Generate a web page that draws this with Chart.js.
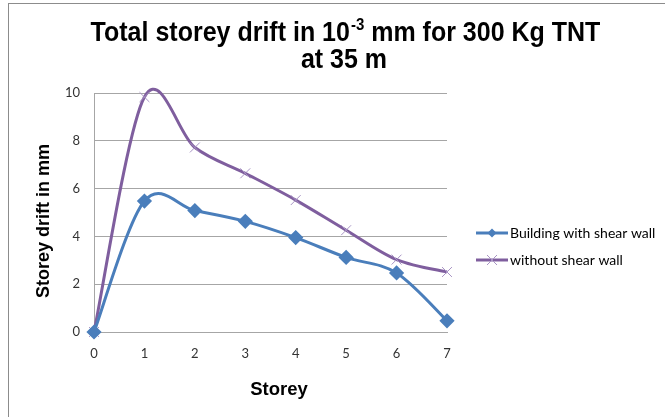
<!DOCTYPE html>
<html>
<head>
<meta charset="utf-8">
<script src="https://cdn.jsdelivr.net/npm/chart.js@4/dist/chart.umd.min.js"></script>
<style>
html,body{margin:0;padding:0;background:#fff;}
#wrap{position:absolute;left:0;top:0;width:665px;height:417px;}
</style>
</head>
<body>
<div id="wrap"><canvas id="c" width="665" height="417"></canvas></div>
<script>
const storeys = [0, 1, 2, 3, 4, 5, 6, 7];
const withShearWall = [0, 5.48, 5.08, 4.63, 3.95, 3.12, 2.47, 0.47];
const withoutShearWall = [0, 9.83, 7.72, 6.64, 5.52, 4.26, 3.03, 2.51];
const seriesNames = ['Building with shear wall', 'without shear wall'];
const titleParts = ['Total storey drift in 10', '-3', ' mm for 300 Kg TNT'];
const titleLine2 = 'at 35 m';
const xAxisTitle = 'Storey';
const yAxisTitle = 'Storey drift in mm';

const tickFont = {family: 'Lato, "Open Sans", sans-serif', size: 13};
const boldFam = '"Liberation Sans", Arial, sans-serif';

// Excel-like smoothing: uniform Catmull-Rom control points on library-computed pixel positions
const smoothing = {
  id: 'smoothing',
  beforeDatasetDraw(chart, args) {
    const line = args.meta.dataset;
    const pts = args.meta.data;
    if (!line || !pts.length) return;
    line.updateControlPoints(chart.chartArea, 'x');
    const n = pts.length;
    for (let i = 0; i < n; i++) {
      const p = pts[i];
      const prev = pts[Math.max(0, i - 1)];
      const next = pts[Math.min(n - 1, i + 1)];
      const dx = (next.x - prev.x) / 6, dy = (next.y - prev.y) / 6;
      p.cp1x = p.x - dx; p.cp1y = p.y - dy;
      p.cp2x = p.x + dx; p.cp2y = p.y + dy;
    }
  }
};

const decor = {
  id: 'decor',
  beforeDraw(chart) {
    const ctx = chart.ctx;
    ctx.save();
    ctx.strokeStyle = '#8c8c8c';
    ctx.lineWidth = 1;
    ctx.strokeRect(8.5, 3.5, 700, 500);
    ctx.restore();
  },
  afterDraw(chart) {
    const ctx = chart.ctx;
    ctx.save();
    ctx.fillStyle = '#000';
    ctx.textBaseline = 'alphabetic';
    ctx.textAlign = 'left';
    // title line 1 with superscript
    const big = 'bold 25px ' + boldFam, small = 'bold 15px ' + boldFam;
    ctx.font = big; const w0 = ctx.measureText(titleParts[0]).width;
    const w2 = ctx.measureText(titleParts[2]).width;
    ctx.font = small; const w1 = ctx.measureText(titleParts[1]).width;
    let x = 345 - (w0 + w1 + w2) / 2;
    const sy = 1.07;
    ctx.save();
    ctx.translate(0, 41); ctx.scale(1, sy);
    ctx.font = big; ctx.fillText(titleParts[0], x, 0);
    ctx.font = small; ctx.fillText(titleParts[1], x + w0 + 1, -10.5);
    ctx.font = big; ctx.fillText(titleParts[2], x + w0 + w1 + 1, 0);
    ctx.restore();
    ctx.save();
    ctx.translate(0, 67.5); ctx.scale(1, sy);
    ctx.font = big; ctx.textAlign = 'center';
    ctx.fillText(titleLine2, 344, 0);
    ctx.restore();
    // axis titles
    ctx.font = 'bold 18.5px ' + boldFam;
    ctx.textAlign = 'center'; ctx.textBaseline = 'middle';
    ctx.fillText(xAxisTitle, 279, 390);
    ctx.save();
    ctx.translate(44, 221); ctx.rotate(-Math.PI / 2);
    ctx.font = 'bold 18px ' + boldFam;
    ctx.fillText(yAxisTitle, 0, 0);
    ctx.restore();
    // legend
    const items = chart.data.datasets;
    const ys = [233, 260];
    items.forEach((ds, i) => {
      const y = ys[i];
      ctx.strokeStyle = ds.borderColor;
      ctx.lineWidth = 3;
      ctx.beginPath();
      ctx.moveTo(476, y);
      ctx.lineTo(508, y);
      ctx.stroke();
      if (ds.pointStyle === 'rectRot') {
        ctx.fillStyle = ds.pointBackgroundColor;
        ctx.beginPath();
        ctx.moveTo(492, y - 4.5);
        ctx.lineTo(496.5, y);
        ctx.lineTo(492, y + 4.5);
        ctx.lineTo(487.5, y);
        ctx.closePath();
        ctx.fill();
      } else {
        ctx.strokeStyle = ds.pointBorderColor;
        ctx.lineWidth = 1;
        ctx.beginPath();
        ctx.moveTo(487, y - 5); ctx.lineTo(497, y + 5);
        ctx.moveTo(497, y - 5); ctx.lineTo(487, y + 5);
        ctx.stroke();
      }
      ctx.fillStyle = '#000';
      ctx.textAlign = 'left';
      ctx.textBaseline = 'middle';
      ctx.font = '14px Lato, "Open Sans", sans-serif';
      ctx.fillText(ds.label, 510, y);
    });
    ctx.restore();
  }
};

new Chart(document.getElementById('c'), {
  type: 'line',
  data: {
    datasets: [
      {
        label: seriesNames[0],
        data: storeys.map((s, i) => ({x: s, y: withShearWall[i]})),
        borderColor: '#4a7ebb',
        backgroundColor: '#4a7ebb',
        pointBackgroundColor: '#4a7ebb',
        pointBorderColor: '#4a7ebb',
        pointStyle: 'rectRot',
        pointRadius: 5.5,
        borderWidth: 3,
        tension: 0.4,
        capBezierPoints: false,
        clip: false
      },
      {
        label: seriesNames[1],
        data: storeys.map((s, i) => ({x: s, y: withoutShearWall[i]})),
        borderColor: '#7f5e9e',
        backgroundColor: '#7f5e9e',
        pointBackgroundColor: '#a894c4',
        pointBorderColor: '#a894c4',
        pointStyle: 'crossRot',
        pointRadius: 7,
        pointBorderWidth: 1,
        borderWidth: 3,
        tension: 0.4,
        capBezierPoints: false,
        clip: false
      }
    ]
  },
  options: {
    responsive: false,
    animation: false,
    layout: {padding: {left: 30, right: 218, top: 93, bottom: 0}},
    plugins: {legend: {display: false}, title: {display: false}, tooltip: {enabled: false}},
    scales: {
      x: {
        type: 'linear', min: 0, max: 7,
        ticks: {stepSize: 1, padding: 14, color: '#333', font: tickFont},
        grid: {display: false, drawTicks: false},
        border: {display: true, color: '#a6a6a6'},
        title: {display: false},
        afterFit(s) { s.height = 85; }
      },
      y: {
        min: 0, max: 10,
        ticks: {stepSize: 2, padding: 14, color: '#333', font: tickFont},
        grid: {color: '#a6a6a6', lineWidth: 1, drawTicks: false},
        border: {display: true, color: '#a6a6a6'},
        title: {display: false},
        afterFit(s) { s.width = 64; }
      }
    }
  },
  plugins: [smoothing, decor]
});
</script>
</body>
</html>
